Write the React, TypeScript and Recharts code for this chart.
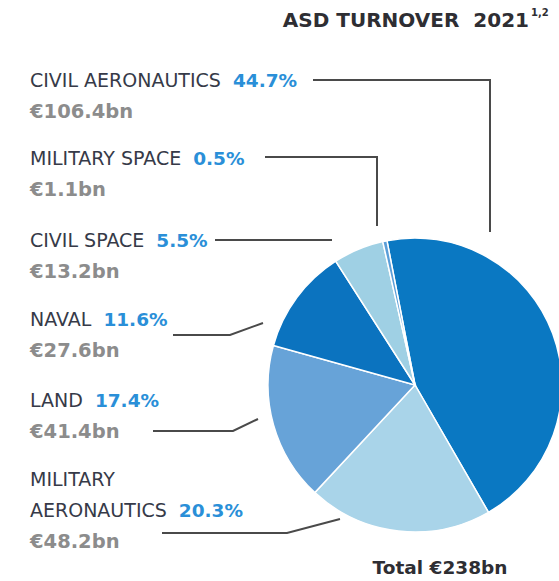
import React from 'react'
import { PieChart, Pie, Cell } from 'recharts'

// clockwise from the top, as in the report
const SEGMENTS: string[] = ['CIVIL AERONAUTICS', 'MILITARY AERONAUTICS', 'LAND', 'NAVAL', 'CIVIL SPACE', 'MILITARY SPACE']
const TURNOVER_BN: number[] = [106.4, 48.2, 41.4, 27.6, 13.2, 1.1]
const SHARES: string[] = ['44.7%', '20.3%', '17.4%', '11.6%', '5.5%', '0.5%']
const VALUE_LABELS: string[] = ['€106.4bn', '€48.2bn', '€41.4bn', '€27.6bn', '€13.2bn', '€1.1bn']

const COLORS: string[] = ['#0a78c2', '#a9d4e9', '#67a3d8', '#0b73bf', '#9fd0e4', '#5a9ed8']

// where each label sits in the left column, and its leader line
interface ILabelLayout {
    lines: string[]
    y: number
    leader: string
}

const LAYOUT: ILabelLayout[] = [
    { lines: ['CIVIL AERONAUTICS'], y: 87, leader: '313,80 490,80 490,232' },
    { lines: ['MILITARY', 'AERONAUTICS'], y: 486, leader: '162,533 287,533 340,519' },
    { lines: ['LAND'], y: 407, leader: '153,431 233,431 258,419' },
    { lines: ['NAVAL'], y: 326, leader: '173,335 230,335 263,323' },
    { lines: ['CIVIL SPACE'], y: 247, leader: '215,240 332,240' },
    { lines: ['MILITARY SPACE'], y: 165, leader: '265,157 377,157 377,226' },
]

const FONT = '"DejaVu Sans", Verdana, sans-serif'

interface IRow {
    name: string
    value: number
    share: string
    label: string
}

const data: IRow[] = SEGMENTS.map((name, i) => ({
    name,
    value: TURNOVER_BN[i],
    share: SHARES[i],
    label: VALUE_LABELS[i],
}))

const renderLabel = (props: any) => {
    const { index } = props
    const row = data[index]
    const layout = LAYOUT[index]
    const n = layout.lines.length
    return (
        <g key={`label-${index}`}>
            <polyline points={layout.leader} fill="none" stroke="#4a4a4a" strokeWidth={2} />
            {layout.lines.map((line, li) => (
                <text
                    key={li}
                    x={30}
                    y={layout.y + li * 31}
                    fontFamily={FONT}
                    fontSize={19}
                    fill="#363a48"
                    textAnchor="start"
                >
                    {line}
                    {li === n - 1 && (
                        <tspan dx={12} fill="#2a8fd8" fontWeight={700} fontSize={18.5}>{row.share}</tspan>
                    )}
                </text>
            ))}
            <text
                x={30}
                y={layout.y + (n - 1) * 31 + 31}
                fontFamily={FONT}
                fontSize={19.5}
                fontWeight={700}
                fill="#8c8c8c"
                textAnchor="start"
            >
                {row.label}
            </text>
        </g>
    )
}

const App: React.FunctionComponent = () => {
    return (
        <div style={{ position: 'absolute', left: 0, top: 0, background: '#fff' }}>
            <PieChart width={559} height={581}>
                <text x={529} y={27} textAnchor="end" fontFamily={FONT} fontSize={20} fontWeight={700} fill="#2e2e33">
                    ASD TURNOVER<tspan dx={14}>2021</tspan>
                </text>
                <text x={531} y={16} textAnchor="start" fontFamily={FONT} fontSize={10} fontWeight={700} fill="#2e2e33">
                    1,2
                </text>
                <Pie
                    data={data}
                    dataKey="value"
                    nameKey="name"
                    cx={410}
                    cy={380}
                    outerRadius={147}
                    startAngle={101}
                    endAngle={-259}
                    stroke="#ffffff"
                    strokeWidth={1.5}
                    label={renderLabel}
                    labelLine={false}
                    isAnimationActive={false}
                >
                    {data.map((_, index) => (
                        <Cell key={`cell-${index}`} fill={COLORS[index % COLORS.length]} />
                    ))}
                </Pie>
                <text x={440} y={574} textAnchor="middle" fontFamily={FONT} fontSize={18.5} fontWeight={700} fill="#2e2e33">
                    Total €238bn
                </text>
            </PieChart>
        </div>
    )
}

export default App
